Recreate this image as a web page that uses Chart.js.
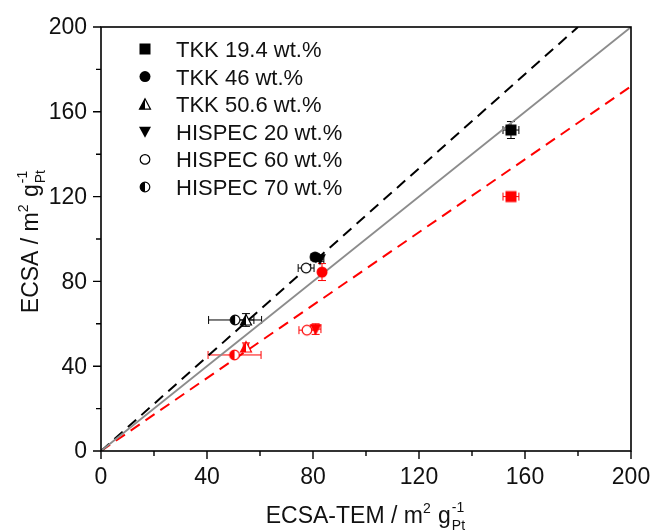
<!DOCTYPE html>
<html>
<head>
<meta charset="utf-8">
<script src="https://cdn.jsdelivr.net/npm/chart.js@4.4.0/dist/chart.umd.min.js"></script>
<style>
  html, body { margin: 0; padding: 0; background: #fff; }
  #wrap { width: 650px; height: 531px; }
</style>
</head>
<body>
<div id="wrap"><canvas id="c" width="650" height="531"></canvas></div>
<script>
// sample names (legend order)
var names = ['TKK 19.4 wt.%', 'TKK 46 wt.%', 'TKK 50.6 wt.%', 'HISPEC 20 wt.%', 'HISPEC 60 wt.%', 'HISPEC 70 wt.%'];
var markers = ['rect', 'circle', 'halfTriangle', 'downTriangle', 'openCircle', 'halfCircle'];

// black points
var blackX = [154.7, 80.8, 54.7, 82.6, 77.4, 50.6];
var blackY = [151.4, 91.5, 61.8, 90.5, 86.3, 61.8];
var blackXErr = [3, 1.5, 3, 1.5, 3, 10];
var blackYErr = [4, 1, 3, 1, 1.5, 1];

// red points
var redX = [154.7, 83.4, 54.7, 81.0, 77.7, 50.4];
var redY = [120.0, 84.4, 49.0, 57.5, 57.0, 45.3];
var redXErr = [3, 0, 1, 2, 3, 10];
var redYErr = [1, 4, 2, 2.5, 1, 1];

// reference lines
var lineX = [0, 200];
var diagY = [0, 200];
var blackLineX = [0, 180];
var blackLineY = [0, 200];
var redLineY = [0, 172];

var xTicks = [0, 40, 80, 120, 160, 200];
var yTicks = [0, 40, 80, 120, 160, 200];

var RED = '#ff0000';
var BLACK = '#000000';
var FONT = '"Liberation Sans", Arial, sans-serif';

function markerCanvas(kind, color) {
  var s = 14;
  var cv = document.createElement('canvas');
  cv.width = s; cv.height = s;
  var g = cv.getContext('2d');
  drawMarker(g, kind, color, s / 2, s / 2);
  return cv;
}

function drawMarker(g, kind, color, cx, cy) {
  g.save();
  g.fillStyle = color;
  g.strokeStyle = color;
  g.lineWidth = 1.2;
  if (kind === 'rect') {
    g.fillRect(cx - 5.5, cy - 5.5, 11, 11);
  } else if (kind === 'circle') {
    g.beginPath(); g.arc(cx, cy, 5.5, 0, Math.PI * 2); g.fill();
  } else if (kind === 'openCircle') {
    g.beginPath(); g.arc(cx, cy, 4.8, 0, Math.PI * 2); g.fillStyle = '#fff'; g.fill(); g.stroke();
  } else if (kind === 'halfCircle') {
    g.beginPath(); g.arc(cx, cy, 4.8, 0, Math.PI * 2); g.fillStyle = '#fff'; g.fill(); g.stroke();
    g.beginPath(); g.arc(cx, cy, 4.8, Math.PI / 2, Math.PI * 1.5); g.closePath(); g.fillStyle = color; g.fill();
  } else if (kind === 'downTriangle') {
    g.beginPath(); g.moveTo(cx - 6, cy - 5); g.lineTo(cx + 6, cy - 5); g.lineTo(cx, cy + 6); g.closePath(); g.fill();
  } else if (kind === 'halfTriangle') {
    g.beginPath(); g.moveTo(cx, cy - 5.5); g.lineTo(cx + 5.5, cy + 5); g.lineTo(cx - 5.5, cy + 5); g.closePath();
    g.fillStyle = '#fff'; g.fill(); g.stroke();
    g.beginPath(); g.moveTo(cx, cy - 5.5); g.lineTo(cx, cy + 5); g.lineTo(cx - 5.5, cy + 5); g.closePath();
    g.fillStyle = color; g.fill();
  }
  g.restore();
}

function pts(xs, ys) {
  return xs.map(function (x, i) { return { x: x, y: ys[i] }; });
}

var datasets = [];
datasets.push({ type: 'line', data: pts(lineX, diagY), borderColor: '#8c8c8c', borderWidth: 1.8, pointRadius: 0, order: 5 });
datasets.push({ type: 'line', data: pts(blackLineX, blackLineY), borderColor: BLACK, borderWidth: 2, borderDash: [11, 7], pointRadius: 0, order: 5 });
datasets.push({ type: 'line', data: pts(lineX, redLineY), borderColor: RED, borderWidth: 2, borderDash: [11, 7], pointRadius: 0, order: 5 });

names.forEach(function (n, i) {
  datasets.push({
    type: 'scatter', label: n + ' red', data: [{ x: redX[i], y: redY[i] }],
    pointStyle: markerCanvas(markers[i], RED), xErr: redXErr[i], yErr: redYErr[i], errColor: RED, order: 2
  });
  datasets.push({
    type: 'scatter', label: n, data: [{ x: blackX[i], y: blackY[i] }],
    pointStyle: markerCanvas(markers[i], BLACK), xErr: blackXErr[i], yErr: blackYErr[i], errColor: BLACK, order: 1
  });
});

var errorBars = {
  id: 'errorBars',
  beforeDatasetsDraw: function (chart) {
    var ctx = chart.ctx, xs = chart.scales.x, ys = chart.scales.y;
    chart.data.datasets.forEach(function (ds) {
      if (ds.xErr === undefined) return;
      var p = ds.data[0];
      var px = xs.getPixelForValue(p.x), py = ys.getPixelForValue(p.y);
      ctx.save();
      ctx.strokeStyle = ds.errColor; ctx.lineWidth = 1;
      ctx.beginPath();
      if (ds.xErr > 0) {
        var x1 = xs.getPixelForValue(p.x - ds.xErr), x2 = xs.getPixelForValue(p.x + ds.xErr);
        ctx.moveTo(x1, py); ctx.lineTo(x2, py);
        ctx.moveTo(x1, py - 4); ctx.lineTo(x1, py + 4);
        ctx.moveTo(x2, py - 4); ctx.lineTo(x2, py + 4);
      }
      if (ds.yErr > 0) {
        var y1 = ys.getPixelForValue(p.y - ds.yErr), y2 = ys.getPixelForValue(p.y + ds.yErr);
        ctx.moveTo(px, y1); ctx.lineTo(px, y2);
        ctx.moveTo(px - 4, y1); ctx.lineTo(px + 4, y1);
        ctx.moveTo(px - 4, y2); ctx.lineTo(px + 4, y2);
      }
      ctx.stroke();
      ctx.restore();
    });
  }
};

// text pieces: [text, size, dy, extraSpace]; overlap = drawn under previous piece
function drawRich(ctx, parts, x, y) {
  var total = 0;
  parts.forEach(function (p) {
    ctx.font = p[1] + 'px ' + FONT;
    p.w = ctx.measureText(p[0]).width + (p[3] || 0);
    if (!p.overlap) total += p.w;
  });
  var cx = x - total / 2;
  var prevX = cx;
  parts.forEach(function (p) {
    ctx.font = p[1] + 'px ' + FONT;
    var at = p.overlap ? prevX : cx;
    ctx.fillText(p[0], at, y + p[2]);
    if (!p.overlap) { prevX = cx; cx += p.w; }
  });
}

function unitParts(label) {
  var sub = ['Pt', 14, 7];
  sub.overlap = true;
  return [[label + ' / m', 23, 0], ['2', 14, -10, 1], [' g', 23, 0, 1], ['-1', 14, -11, 4], sub];
}

var frame = {
  id: 'frame',
  afterDraw: function (chart) {
    var ctx = chart.ctx, a = chart.chartArea, xs = chart.scales.x, ys = chart.scales.y;
    ctx.save();
    ctx.strokeStyle = '#000'; ctx.lineWidth = 1.6;
    ctx.strokeRect(a.left, a.top, a.right - a.left, a.bottom - a.top);
    ctx.lineWidth = 1.4;
    ctx.beginPath();
    for (var v = 0; v <= 200; v += 20) {
      var len = v % 40 === 0 ? 8 : 5;
      var px = xs.getPixelForValue(v);
      ctx.moveTo(px, a.bottom); ctx.lineTo(px, a.bottom + len);
      var py = ys.getPixelForValue(v);
      ctx.moveTo(a.left, py); ctx.lineTo(a.left - len, py);
    }
    ctx.stroke();

    // tick labels
    ctx.fillStyle = '#111';
    ctx.font = '23px ' + FONT;
    ctx.textBaseline = 'middle';
    ctx.textAlign = 'center';
    xTicks.forEach(function (v) { ctx.fillText(String(v), xs.getPixelForValue(v), a.bottom + 27); });
    ctx.textAlign = 'right';
    yTicks.forEach(function (v) { ctx.fillText(String(v), a.left - 14, ys.getPixelForValue(v) + 1); });

    // legend
    ctx.textBaseline = 'alphabetic';
    ctx.textAlign = 'left';
    ctx.font = '22px ' + FONT;
    names.forEach(function (n, i) {
      var y = 57 + i * 27.6;
      drawMarker(ctx, markers[i], BLACK, 145, y - 8);
      ctx.fillStyle = '#111';
      ctx.fillText(n, 176, y);
    });

    // axis titles
    ctx.fillStyle = '#111';
    ctx.textAlign = 'left';
    drawRich(ctx, unitParts('ECSA-TEM'), 367, 523);
    ctx.translate(38, 240);
    ctx.rotate(-Math.PI / 2);
    drawRich(ctx, unitParts('ECSA'), 0, 0);
    ctx.restore();
  }
};

new Chart(document.getElementById('c'), {
  data: { datasets: datasets },
  options: {
    responsive: false,
    animation: false,
    layout: { padding: { top: 27, right: 19, left: 0, bottom: 0 } },
    plugins: { legend: { display: false }, tooltip: { enabled: false } },
    scales: {
      x: {
        type: 'linear', min: 0, max: 200,
        afterBuildTicks: function (s) { s.ticks = xTicks.map(function (v) { return { value: v }; }); },
        afterFit: function (s) { s.height = 80; },
        grid: { display: false, drawTicks: false },
        border: { display: false },
        ticks: { display: false }
      },
      y: {
        type: 'linear', min: 0, max: 200,
        afterBuildTicks: function (s) { s.ticks = yTicks.map(function (v) { return { value: v }; }); },
        afterFit: function (s) { s.width = 101; },
        grid: { display: false, drawTicks: false },
        border: { display: false },
        ticks: { display: false }
      }
    }
  },
  plugins: [errorBars, frame]
});
</script>
</body>
</html>
